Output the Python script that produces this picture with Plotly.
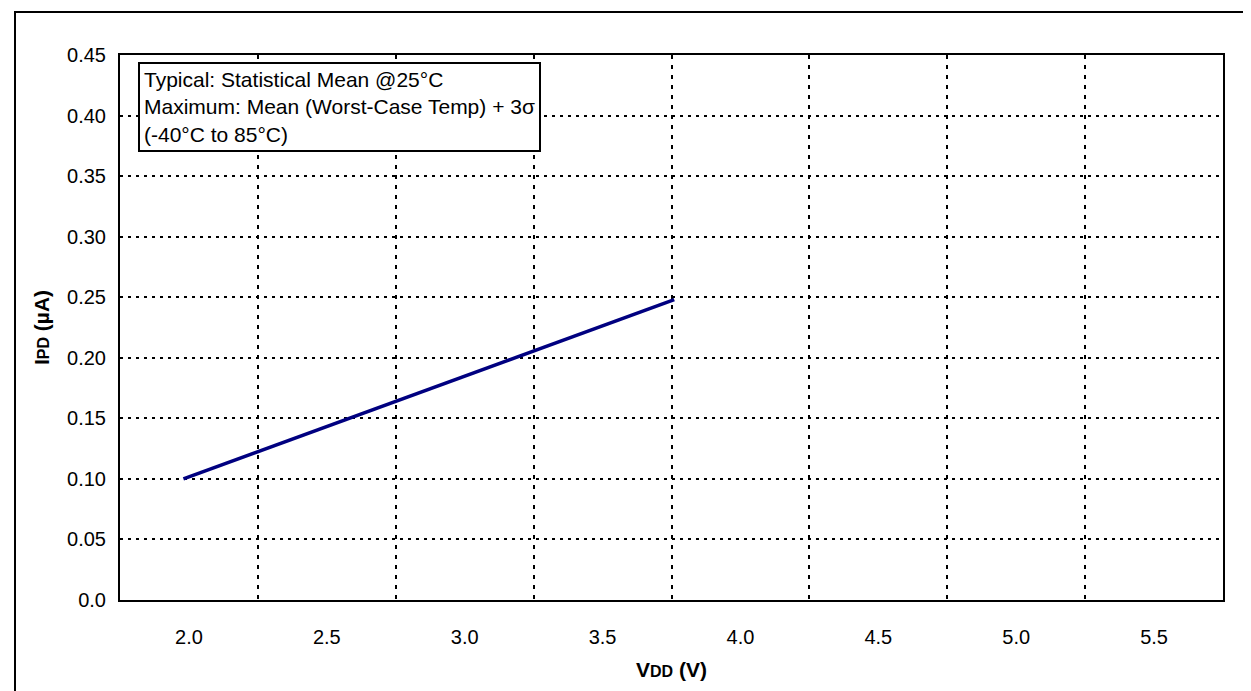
import plotly.graph_objects as go

# ---- data ----
vdd_volts = [1.98, 3.76]
ipd_max_ua = [0.100, 0.248]

x_tick_vals = [2.0, 2.5, 3.0, 3.5, 4.0, 4.5, 5.0, 5.5]
x_tick_text = ["2.0", "2.5", "3.0", "3.5", "4.0", "4.5", "5.0", "5.5"]
x_grid_vals = [2.25, 2.75, 3.25, 3.75, 4.25, 4.75, 5.25]
y_tick_vals = [0.0, 0.05, 0.10, 0.15, 0.20, 0.25, 0.30, 0.35, 0.40, 0.45]
y_tick_text = ["0.0", "0.05", "0.10", "0.15", "0.20", "0.25", "0.30", "0.35", "0.40", "0.45"]

note_lines = [
    "Typical: Statistical Mean @25°C",
    "Maximum: Mean (Worst-Case Temp) + 3σ",
    "(-40°C to 85°C)",
]

FONT = "Liberation Sans, Arial, sans-serif"

fig = go.Figure()
fig.add_trace(go.Scatter(
    x=vdd_volts, y=ipd_max_ua, mode="lines",
    line=dict(color="#000080", width=3.5),
    showlegend=False, hoverinfo="skip",
))

# plot area in pixels: left 112, right 1215, top 47, bottom 592
L, R, T, B = 112, 1215, 47, 592
W, H = 1251, 691

def px_x(p):
    return (p - L) / (R - L)

def px_y(p):
    return (B - p) / (B - T)

fig.update_layout(
    width=W, height=H,
    margin=dict(l=L, r=W - R, t=T, b=H - B),
    paper_bgcolor="white", plot_bgcolor="white",
    font=dict(family=FONT, size=20, color="black"),
    xaxis=dict(
        range=[1.75, 5.75], tickmode="array", tickvals=x_tick_vals, ticktext=x_tick_text,
        showgrid=False, zeroline=False, ticks="",
        showline=True, linecolor="black", linewidth=2, mirror=True,
        ticklabelstandoff=18,
        tickfont=dict(size=20),
        minor=dict(tickmode="array", tickvals=x_grid_vals, showgrid=True,
                   gridcolor="black", gridwidth=2, griddash="4px,6px", ticks=""),
        title=dict(text="<b>V<span style='font-size:16px'>DD</span> (V)</b>",
                   font=dict(size=21), standoff=15),
    ),
    yaxis=dict(
        range=[0, 0.45], tickmode="array", tickvals=y_tick_vals, ticktext=y_tick_text,
        showgrid=True, gridcolor="black", gridwidth=2, griddash="3px,5px",
        zeroline=False, ticks="",
        showline=True, linecolor="black", linewidth=2, mirror=True,
        ticklabelstandoff=8,
        tickfont=dict(size=20),
        title=dict(text="<b>I<span style='font-size:16px'>PD</span> (µA)</b>",
                   font=dict(size=21), standoff=12),
    ),
    shapes=[
        dict(type="rect", xref="paper", yref="paper",
             x0=px_x(7), x1=px_x(1265), y0=px_y(710), y1=px_y(4),
             line=dict(color="black", width=2), fillcolor="rgba(0,0,0,0)", layer="above"),
    ],
    annotations=[
        dict(xref="paper", yref="paper", x=px_x(130), y=px_y(54),
             xanchor="left", yanchor="top", align="left", showarrow=False,
             text="<br>".join(note_lines), font=dict(size=21),
             bgcolor="white", bordercolor="black", borderwidth=2, borderpad=4),
    ],
)

fig.write_html("out.html")
